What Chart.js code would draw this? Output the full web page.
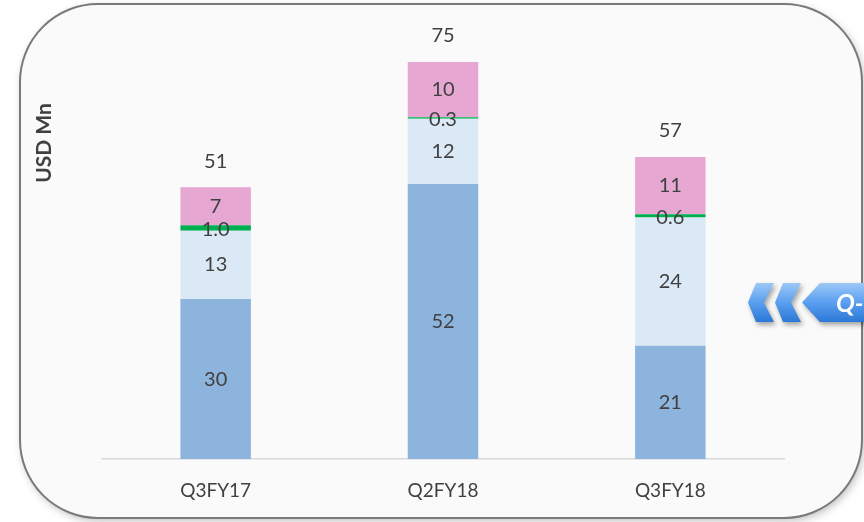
<!DOCTYPE html>
<html>
<head>
<meta charset="utf-8">
<script src="https://cdn.jsdelivr.net/npm/chart.js@4.4.1/dist/chart.umd.min.js"></script>
<style>
html,body{margin:0;padding:0;background:#ffffff;}
#wrap{width:864px;height:522px;position:relative;}
</style>
</head>
<body>
<div id="wrap"><canvas id="c" width="864" height="522"></canvas></div>
<script>
const categories = ["Q3FY17", "Q2FY18", "Q3FY18"];
const seriesBase   = [30.2, 51.9, 21.4];
const seriesLight  = [12.9, 12.3, 24.2];
const seriesGreen  = [1.0, 0.3, 0.6];
const seriesPink   = [7.2, 10.4, 10.8];
const yAxisTitle = "USD Mn";
const arrowText = "Q-";

const FONT = "Lato, 'Open Sans', sans-serif";
const TEXT = "#404040";

function roundRectPath(ctx, x, y, w, h, r) {
  ctx.beginPath();
  ctx.moveTo(x + r, y);
  ctx.lineTo(x + w - r, y);
  ctx.arcTo(x + w, y, x + w, y + r, r);
  ctx.lineTo(x + w, y + h - r);
  ctx.arcTo(x + w, y + h, x + w - r, y + h, r);
  ctx.lineTo(x + r, y + h);
  ctx.arcTo(x, y + h, x, y + h - r, r);
  ctx.lineTo(x, y + r);
  ctx.arcTo(x, y, x + r, y, r);
  ctx.closePath();
}

const framePlugin = {
  id: 'frame',
  beforeDraw(chart) {
    const ctx = chart.ctx;
    ctx.save();
    ctx.fillStyle = '#ffffff';
    ctx.fillRect(0, 0, chart.width, chart.height);
    roundRectPath(ctx, 20, 4, 842, 514, 78);
    ctx.shadowColor = 'rgba(0,0,0,0.25)';
    ctx.shadowBlur = 8;
    ctx.shadowOffsetX = 2;
    ctx.shadowOffsetY = 3;
    ctx.fillStyle = '#fafafa';
    ctx.fill();
    ctx.shadowColor = 'transparent';
    ctx.lineWidth = 2;
    ctx.strokeStyle = '#7a7a7a';
    ctx.stroke();
    ctx.restore();
  }
};

const labelPlugin = {
  id: 'labels',
  afterDatasetsDraw(chart) {
    const ctx = chart.ctx;
    ctx.save();
    ctx.fillStyle = TEXT;
    ctx.textAlign = 'center';
    ctx.textBaseline = 'middle';
    ctx.font = "20px " + FONT;
    chart.data.datasets.forEach((ds, di) => {
      const meta = chart.getDatasetMeta(di);
      meta.data.forEach((bar, i) => {
        const v = ds.data[i];
        const txt = ds.decimals ? v.toFixed(ds.decimals) : Math.round(v).toString();
        const yc = (bar.y + bar.base) / 2 + (ds.labelShift || 0);
        ctx.fillText(txt, bar.x, yc);
      });
    });
    const last = chart.getDatasetMeta(chart.data.datasets.length - 1);
    last.data.forEach((bar, i) => {
      let sum = 0;
      chart.data.datasets.forEach(ds => sum += ds.data[i]);
      ctx.fillText(Math.round(sum).toString(), bar.x, bar.y - 26);
    });
    ctx.save();
    ctx.translate(44, 143);
    ctx.rotate(-Math.PI / 2);
    ctx.font = "bold 21px " + FONT;
    ctx.fillText(yAxisTitle, 0, 0);
    ctx.restore();
    ctx.restore();
  },
  afterDraw(chart) {
    const ctx = chart.ctx;
    ctx.save();
    const top = 283, bot = 322, mid = 302.5;
    const grad = ctx.createLinearGradient(0, top, 0, bot);
    grad.addColorStop(0, '#9cc8f6');
    grad.addColorStop(0.5, '#5a9ff0');
    grad.addColorStop(1, '#2b78d6');
    ctx.shadowColor = 'rgba(0,0,0,0.35)';
    ctx.shadowBlur = 5;
    ctx.shadowOffsetX = 2;
    ctx.shadowOffsetY = 3;
    ctx.fillStyle = grad;
    [748, 775].forEach(x0 => {
      ctx.beginPath();
      ctx.moveTo(x0, mid);
      ctx.lineTo(x0 + 8, top);
      ctx.lineTo(x0 + 26, top);
      ctx.lineTo(x0 + 16, mid);
      ctx.lineTo(x0 + 26, bot);
      ctx.lineTo(x0 + 8, bot);
      ctx.closePath();
      ctx.fill();
    });
    ctx.beginPath();
    ctx.moveTo(802, mid);
    ctx.lineTo(820, top);
    ctx.lineTo(880, top);
    ctx.lineTo(880, bot);
    ctx.lineTo(820, bot);
    ctx.closePath();
    ctx.fill();
    ctx.shadowColor = 'transparent';
    ctx.fillStyle = '#ffffff';
    ctx.font = "italic bold 25px " + FONT;
    ctx.textAlign = 'left';
    ctx.textBaseline = 'middle';
    ctx.fillText(arrowText, 836, mid + 1);
    ctx.restore();
  }
};

new Chart(document.getElementById('c'), {
  type: 'bar',
  data: {
    labels: categories,
    datasets: [
      { data: seriesBase, backgroundColor: '#8db4dd' },
      { data: seriesLight, backgroundColor: '#dbe8f5' },
      { data: seriesGreen, backgroundColor: '#00b050', decimals: 1, labelShift: 2 },
      { data: seriesPink, backgroundColor: '#e6a7d3' }
    ]
  },
  options: {
    responsive: false,
    animation: false,
    devicePixelRatio: 1,
    layout: { padding: { left: 102, right: 80, top: 35, bottom: 0 } },
    plugins: { legend: { display: false }, tooltip: { enabled: false } },
    datasets: { bar: { categoryPercentage: 1, barPercentage: 0.31, borderWidth: 0 } },
    scales: {
      x: {
        stacked: true,
        grid: { display: false, drawTicks: false },
        border: { display: true, color: '#d9d9d9', width: 1.5 },
        ticks: { color: TEXT, font: { family: FONT, size: 19 }, padding: 20 }
      },
      y: {
        stacked: true,
        display: false,
        min: 0,
        max: 80
      }
    }
  },
  plugins: [framePlugin, labelPlugin]
});
</script>
</body>
</html>
